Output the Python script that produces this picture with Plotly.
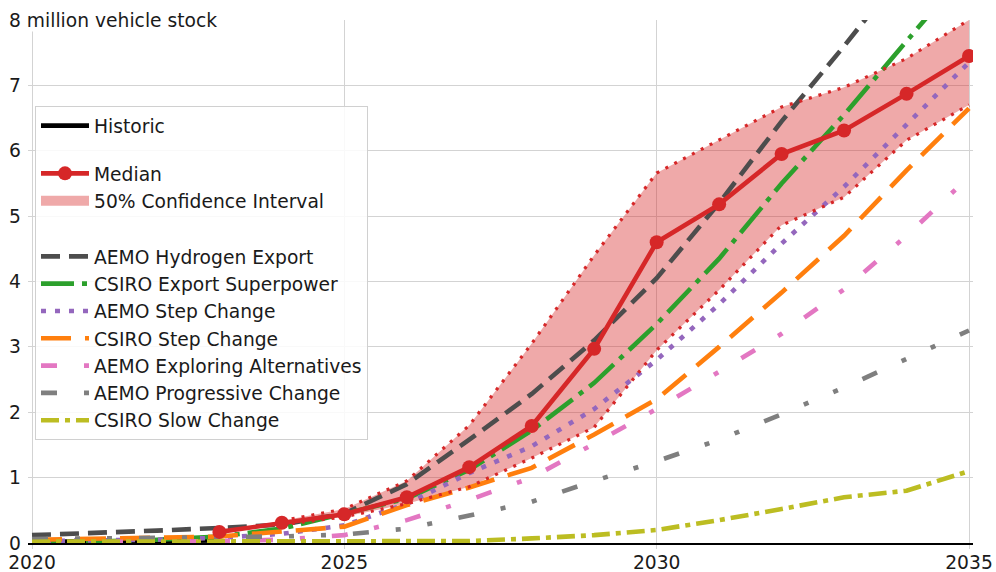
import plotly.graph_objects as go

# ---------------- data ----------------
years = list(range(2020, 2036))

historic_years = [2020, 2021, 2022, 2023]
historic = [0.02, 0.02, 0.03, 0.04]

median_years = list(range(2023, 2036))
median = [0.17, 0.31, 0.44, 0.70, 1.16, 1.79, 2.97, 4.60, 5.18, 5.95, 6.31, 6.87, 7.45]

ci_years = list(range(2024, 2036))
ci_upper = [0.34, 0.52, 0.95, 1.80, 3.05, 4.40, 5.66, 6.16, 6.67, 6.97, 7.41, 8.00]
ci_lower = [0.28, 0.40, 0.60, 0.86, 1.30, 1.77, 2.95, 3.87, 4.86, 5.29, 6.16, 6.70]

aemo_hydrogen_export = [0.12, 0.15, 0.19, 0.23, 0.28, 0.45, 0.90, 1.58, 2.28, 3.10, 4.05, 5.20, 6.45, 7.60, 8.80, 10.0]
csiro_export_superpower = [0.01, 0.02, 0.05, 0.10, 0.22, 0.45, 0.68, 1.12, 1.72, 2.45, 3.35, 4.35, 5.50, 6.55, 7.65, 8.80]
aemo_step_change = [0.03, 0.04, 0.05, 0.08, 0.14, 0.27, 0.60, 1.07, 1.48, 2.05, 2.80, 3.65, 4.58, 5.45, 6.40, 7.35]
csiro_step_change = [0.05, 0.06, 0.08, 0.10, 0.17, 0.25, 0.58, 0.85, 1.15, 1.66, 2.20, 3.00, 3.83, 4.70, 5.70, 6.65]
aemo_exploring_alternatives = [0.01, 0.01, 0.02, 0.03, 0.05, 0.12, 0.35, 0.66, 1.00, 1.52, 2.05, 2.62, 3.20, 3.88, 4.70, 5.60]
aemo_progressive_change = [0.06, 0.07, 0.08, 0.09, 0.10, 0.13, 0.22, 0.42, 0.63, 0.95, 1.25, 1.58, 1.97, 2.38, 2.82, 3.25]
csiro_slow_change = [0.02, 0.02, 0.02, 0.02, 0.02, 0.02, 0.02, 0.03, 0.07, 0.12, 0.20, 0.35, 0.52, 0.70, 0.80, 1.10]

x_ticks = [2020, 2025, 2030, 2035]
y_ticks = [0, 1, 2, 3, 4, 5, 6, 7]
y_title = "8 million vehicle stock"

scenarios = [
    ("AEMO Hydrogen Export", aemo_hydrogen_export, "#4d4d4d", "19px,9px"),
    ("CSIRO Export Superpower", csiro_export_superpower, "#2ca02c", "33px,8px,5px,8px"),
    ("AEMO Step Change", aemo_step_change, "#9467bd", "5px,9px"),
    ("CSIRO Step Change", csiro_step_change, "#ff7f0e", "30px,14px"),
    ("AEMO Exploring Alternatives", aemo_exploring_alternatives, "#e377c2", "16px,27px,5px,27px"),
    ("AEMO Progressive Change", aemo_progressive_change, "#7f7f7f", "16px,27px,5px,27px,5px,27px"),
    ("CSIRO Slow Change", csiro_slow_change, "#bcbd22", "18px,6px,5px,6px"),
]

RED = "#d62728"
FILL = "rgba(214,39,40,0.4)"
FONT = "DejaVu Sans"
FS = 18.7
LW = 4.6

fig = go.Figure()

# historic (bottom-most)
fig.add_trace(go.Scatter(x=historic_years, y=historic, mode="lines", name="Historic",
                         line=dict(color="black", width=LW), legendrank=1,
                         legendgroup="g1"))

# confidence band fill (under scenario lines)
fig.add_trace(go.Scatter(x=ci_years, y=ci_lower, mode="lines", line=dict(width=0),
                         showlegend=False, hoverinfo="skip"))
fig.add_trace(go.Scatter(x=ci_years, y=ci_upper, mode="lines", line=dict(width=0),
                         fill="tonexty", fillcolor=FILL, showlegend=False, hoverinfo="skip"))

# scenario lines
for i, (name, vals, color, dash) in enumerate(scenarios):
    kw = {}
    if i == 0:
        kw = dict(legendgrouptitle=dict(text=" ", font=dict(size=19.5)))
    fig.add_trace(go.Scatter(x=years, y=vals, mode="lines", name=name,
                             line=dict(color=color, width=LW, dash=dash),
                             legendrank=10 + i, legendgroup="g3", **kw))

# confidence bounds (dotted)
for vals in (ci_lower, ci_upper):
    fig.add_trace(go.Scatter(x=ci_years, y=vals, mode="lines",
                             line=dict(color=RED, width=3.2, dash="3px,7px"),
                             showlegend=False, hoverinfo="skip"))

# median
fig.add_trace(go.Scatter(x=median_years, y=median, mode="lines+markers", name="Median",
                         line=dict(color=RED, width=LW), marker=dict(size=14, color=RED),
                         legendrank=3, legendgroup="g2",
                         legendgrouptitle=dict(text=" ", font=dict(size=13.4))))

# legend patch for the band
fig.add_trace(go.Scatter(x=[None], y=[None], mode="lines", name="50% Confidence Interval",
                         line=dict(width=13, color=FILL), legendrank=4, hoverinfo="skip",
                         legendgroup="g2"))

fig.add_annotation(xref="paper", yref="y", x=-0.0212, y=8, xanchor="left", yanchor="middle",
                   text=y_title, showarrow=False, bgcolor="white", borderpad=0,
                   font=dict(family=FONT, size=FS, color="#1a1a1a"))

fig.update_layout(
    width=996, height=572,
    margin=dict(l=28, r=23, t=20, b=29, autoexpand=False),
    paper_bgcolor="white", plot_bgcolor="white",
    font=dict(family=FONT, size=FS, color="#1a1a1a"),
    showlegend=True,
    legend=dict(x=0.0074, y=0.8356, xanchor="left", yanchor="top",
                bgcolor="rgba(255,255,255,0.85)", bordercolor="#d0d0d0", borderwidth=1,
                font=dict(family=FONT, size=FS, color="#1a1a1a"),
                itemwidth=48, traceorder="grouped", tracegroupgap=0),
    xaxis=dict(range=[2019.936, 2035.064], tickvals=x_ticks, ticktext=[str(v) for v in x_ticks],
               showgrid=True, gridcolor="#d3d3d3", gridwidth=1, zeroline=False,
               ticks="outside", ticklen=4, tickcolor="#d3d3d3", automargin=False,
               ticklabelstandoff=-2,
               showline=True, linecolor="black", linewidth=1.5,
               tickfont=dict(family=FONT, size=FS, color="#1a1a1a")),
    yaxis=dict(range=[0, 8], tickvals=y_ticks, showgrid=True, gridcolor="#d3d3d3", gridwidth=1,
               zeroline=False, ticks="", showline=False, ticklabelstandoff=6, automargin=False,
               tickfont=dict(family=FONT, size=FS, color="#1a1a1a")),
)

fig.write_html("out.html", config={"displayModeBar": False},
               post_script="document.body.style.margin='0px';")
